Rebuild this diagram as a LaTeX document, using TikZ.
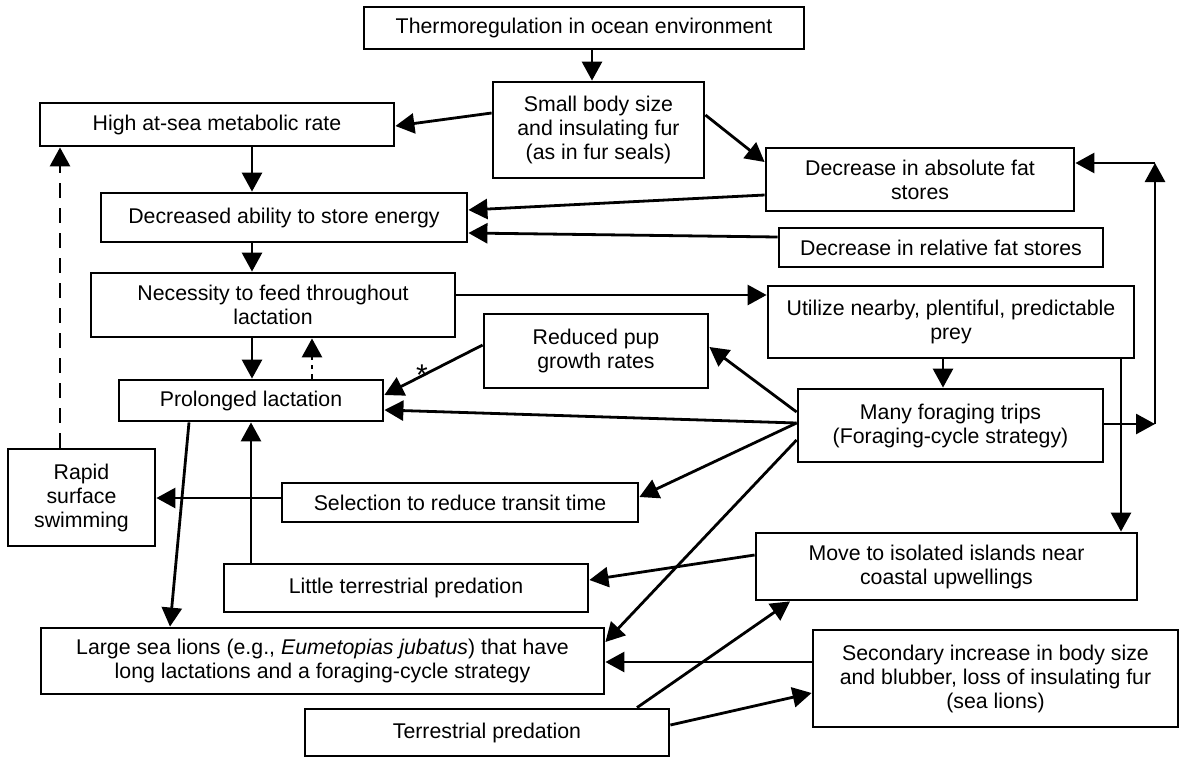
\documentclass[tikz,border=0pt]{standalone}
\usepackage{fontspec}
\setmainfont{Liberation Sans}
\usetikzlibrary{arrows.meta}
\begin{document}
\begin{tikzpicture}[x=1pt,y=-1pt,
  box/.style={draw, line width=2.8pt, inner sep=0pt, align=center,
    font=\fontsize{21.3}{24}\selectfont},
  arr/.style={line width=2.8pt, -{Triangle[length=19pt,width=20pt]}},
  dashedarr/.style={arr, dash pattern=on 15pt off 10pt},
  dottedarr/.style={arr, dash pattern=on 4.5pt off 5pt}]
\useasboundingbox (0,0) rectangle (1183,758);
\fill[white] (0,0) rectangle (1183,758);

\node[box, minimum width=440pt, minimum height=42pt] (thermo) at (584,28) {Thermoregulation in ocean environment};
\node[box, minimum width=211pt, minimum height=96pt] (small) at (598.5,130) {Small body size\\and insulating fur\\(as in fur seals)};
\node[box, minimum width=354pt, minimum height=43pt] (high) at (217,124.5) {High at-sea metabolic rate};
\node[box, minimum width=308pt, minimum height=63pt] (decabs) at (920,179.5) {Decrease in absolute fat\\stores};
\node[box, minimum width=366pt, minimum height=49pt] (decr) at (284,217.5) {Decreased ability to store energy};
\node[box, minimum width=324pt, minimum height=39pt] (decrel) at (941,247.5) {Decrease in relative fat stores};
\node[box, minimum width=364pt, minimum height=64pt] (necess) at (273,305) {Necessity to feed throughout\\lactation};
\node[box, minimum width=366pt, minimum height=72pt] (utilize) at (951,322) {Utilize nearby, plentiful, predictable\\prey};
\node[box, minimum width=224pt, minimum height=74pt] (reduced) at (596,351) {Reduced pup\\growth rates};
\node[box, minimum width=264pt, minimum height=41pt] (prolonged) at (251,400.5) {Prolonged lactation};
\node[box, minimum width=305pt, minimum height=73pt] (many) at (950.5,425.5) {Many foraging trips\\(Foraging-cycle strategy)};
\node[box, minimum width=147pt, minimum height=97pt] (rapid) at (81.5,497.5) {Rapid\\surface\\swimming};
\node[box, minimum width=356pt, minimum height=39pt] (selection) at (460,502.5) {Selection to reduce transit time};
\node[box, minimum width=381pt, minimum height=67pt] (move) at (946.5,566.5) {Move to isolated islands near\\coastal upwellings};
\node[box, minimum width=364pt, minimum height=48pt] (little) at (406,588) {Little terrestrial predation};
\node[box, minimum width=563pt, minimum height=66pt] (large) at (322.5,661) {Large sea lions (e.g., \textit{Eumetopias jubatus}) that have\\long lactations and a foraging-cycle strategy};
\node[box, minimum width=365pt, minimum height=97pt] (secondary) at (995.5,678.5) {Secondary increase in body size\\and blubber, loss of insulating fur\\(sea lions)};
\node[box, minimum width=364pt, minimum height=47pt] (terrestrial) at (487,732.5) {Terrestrial predation};

\coordinate (rb) at (1155,424);
\coordinate (rt) at (1155,163);

\draw[arr] (thermo.south -| 592,0) -- (small.north -| 592,0);
\draw[arr] (small.west |- 0,113) -- (high.east |- 0,126);
\draw[arr] (small.east |- 0,115) -- (decabs.west |- 0,162);
\draw[arr] (high.south -| 252,0) -- (decr.north -| 252,0);
\draw[arr] (decabs.west |- 0,195) -- (decr.east |- 0,210);
\draw[arr] (decrel.west |- 0,237) -- (decr.east |- 0,233);
\draw[arr] (decr.south -| 252,0) -- (necess.north -| 252,0);
\draw[arr] (necess.east |- 0,295) -- (utilize.west |- 0,295);
\draw[arr] (necess.south -| 252,0) -- (prolonged.north -| 252,0);
\draw[dottedarr] (prolonged.north -| 312,0) -- (necess.south -| 312,0);
\draw[arr] (reduced.west |- 0,345) -- (prolonged.east |- 0,395);
\node[font=\fontsize{30}{30}\selectfont, inner sep=0pt] (star) at (422,375) {*};
\draw[arr] (many.west |- 0,423) -- (prolonged.east |- 0,410);
\draw[arr] (many.west |- 0,412) -- (reduced.east |- 0,347);
\draw[arr] (many.west |- 0,423) -- (selection.east |- 0,497);
\draw[arr] (many.west |- 0,440) -- (large.east |- 0,642);
\draw[arr] (utilize.south -| 943,0) -- (many.north -| 943,0);
\draw[arr] (utilize.south -| 1121,0) -- (move.north -| 1121,0);
\draw[arr] (many.east |- rb) -- (rb);
\draw[arr] (rb) -- (rt);
\draw[arr] (rt) -- (decabs.east |- rt);
\draw[arr] (selection.west |- 0,498) -- (rapid.east |- 0,498);
\draw[dashedarr] (rapid.north -| 60,0) -- (high.south -| 60,0);
\draw[arr] (little.north -| 251,0) -- (prolonged.south -| 251,0);
\draw[arr] (prolonged.south -| 189,0) -- (large.north -| 170,0);
\draw[arr] (move.west |- 0,555) -- (little.east |- 0,580);
\draw[arr] (secondary.west |- 0,662) -- (large.east |- 0,662);
\draw[arr] (terrestrial.north -| 637,0) -- (move.south -| 790,0);
\draw[arr] (terrestrial.east |- 0,725) -- (secondary.west |- 0,693);
\end{tikzpicture}
\end{document}
